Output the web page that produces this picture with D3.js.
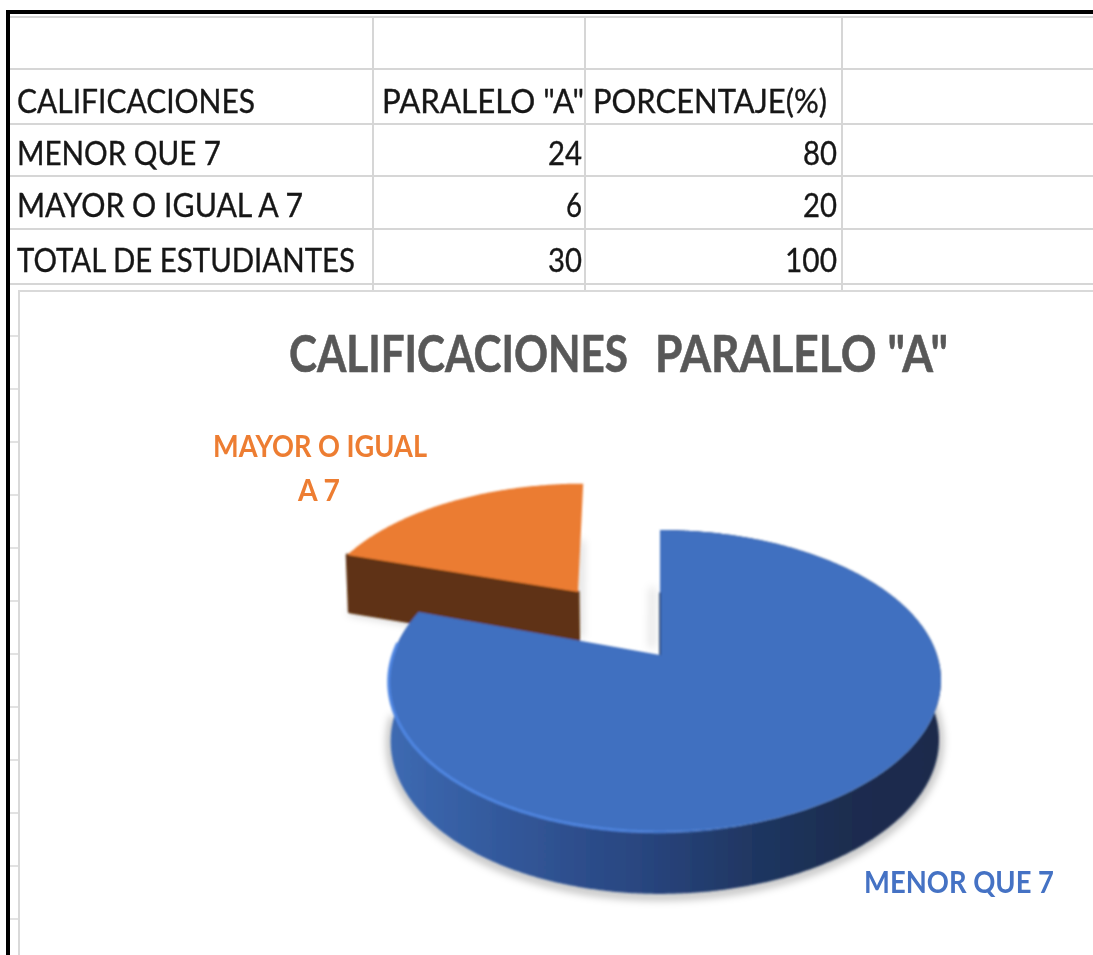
<!DOCTYPE html>
<html><head><meta charset="utf-8">
<style>html,body{margin:0;padding:0;background:#fff;overflow:hidden}svg{display:block}</style>
<script src="https://cdn.jsdelivr.net/npm/d3@7"></script>
</head><body>
<script>
const headers = ['CALIFICACIONES', 'PARALELO "A"', 'PORCENTAJE(%)'];
const rows = ['MENOR QUE 7', 'MAYOR O IGUAL A 7', 'TOTAL DE ESTUDIANTES'];
const paralelo = [24, 6, 30];
const porcentaje = [80, 20, 100];
const titleWords = ['CALIFICACIONES', 'PARALELO "A"'];
const sliceNames = ['MENOR QUE 7', 'MAYOR O IGUAL A 7'];
const sliceValues = [24, 6];
const explode = [0, 0.574];

const W = 1093, H = 955;
const svg = d3.select('body').append('svg').attr('width', W).attr('height', H);
const defs = svg.append('defs');
const soft = defs.append('filter').attr('id','soft').attr('x','-5%').attr('y','-5%').attr('width','110%').attr('height','110%');
soft.append('feGaussianBlur').attr('stdDeviation',0.8);
const txt = defs.append('filter').attr('id','txt').attr('x','-2%').attr('y','-10%').attr('width','104%').attr('height','120%');
txt.append('feGaussianBlur').attr('stdDeviation',0.4);
const shadow = defs.append('filter').attr('id','shadow').attr('x','-20%').attr('y','-20%').attr('width','140%').attr('height','140%');
shadow.append('feGaussianBlur').attr('stdDeviation',4);
const wallGrad = defs.append('linearGradient').attr('id','wall').attr('gradientUnits','userSpaceOnUse')
  .attr('x1',389).attr('x2',941).attr('y1',0).attr('y2',0);
[[0,'#3d6ab2'],[.2,'#33599c'],[.45,'#294680'],[.65,'#203763'],[.82,'#1b2d50'],[1,'#1a2b4c']].forEach(s=>
  wallGrad.append('stop').attr('offset',s[0]).attr('stop-color',s[1]));
const rimGrad = defs.append('linearGradient').attr('id','rim').attr('gradientUnits','userSpaceOnUse')
  .attr('x1',389).attr('x2',770).attr('y1',0).attr('y2',0);
[[0,'#4f86e2',1],[.6,'#4f86e2',.85],[1,'#4f86e2',0]].forEach(s=>
  rimGrad.append('stop').attr('offset',s[0]).attr('stop-color',s[1]).attr('stop-opacity',s[2]));

// ---------- sheet grid ----------
const grid = '#d6d6d6';
const hY = [17, 69, 124, 176, 229, 284];
const vX = [373, 585, 842];
const rowBase = [113, 165, 217, 272];
const gridG = svg.append('g').attr('stroke', grid).attr('stroke-width', 2);
gridG.selectAll('.h').data(hY).join('line').attr('x1',10).attr('x2',W).attr('y1',d=>d).attr('y2',d=>d);
gridG.selectAll('.v').data(vX).join('line').attr('x1',d=>d).attr('x2',d=>d).attr('y1',17).attr('y2',292);
svg.append('g').attr('stroke','#e2e2e2').attr('stroke-width',2).selectAll('line')
  .data(d3.range(336, 930, 53)).join('line').attr('x1',10).attr('x2',18).attr('y1',d=>d).attr('y2',d=>d);

// chart area box
svg.append('rect').attr('x',19).attr('y',291).attr('width',W).attr('height',H)
  .attr('fill','#fff').attr('stroke','#d9d9d9').attr('stroke-width',2);

// sheet frame
svg.append('path').attr('d',`M${W+5},12H8V${H+5}`).attr('fill','none').attr('stroke','#000').attr('stroke-width',4);

// ---------- table text ----------
const tbl = svg.append('g').attr('font-family','Lato, sans-serif').attr('font-size',33).attr('fill','#161616')
  .attr('stroke','#161616').attr('stroke-width',0.35).attr('filter','url(#txt)');
function put(t,x,y,len,anchor){
  const e = tbl.append('text').attr('x',x).attr('y',y).text(t).attr('text-anchor',anchor||'start');
  if(len) e.attr('textLength',len).attr('lengthAdjust','spacingAndGlyphs');
}
const hdrX = [17, 382, 593], hdrLen = [238, 202, 234];
headers.forEach((h,i)=>put(h,hdrX[i],rowBase[0],hdrLen[i]));
const rowLen = [204, 286, 338];
const numLen = [34, 16, 34], pctLen = [34, 34, 52];
rows.forEach((r,i)=>{
  put(r,17,rowBase[i+1],rowLen[i]);
  put(paralelo[i],582,rowBase[i+1],numLen[i],'end');
  put(porcentaje[i],837,rowBase[i+1],pctLen[i],'end');
});

// ---------- chart title ----------
const titleX = [289, 655], titleLen = [339, 293];
svg.append('g').attr('font-family','Lato, sans-serif').attr('font-weight',700)
  .attr('font-size',44).attr('fill','#595959').attr('stroke','#595959').attr('stroke-width',0.5).attr('filter','url(#txt)')
  .selectAll('text').data(titleWords).join('text')
  .attr('transform',(d,i)=>`translate(${titleX[i]},372) scale(1,1.16)`)
  .attr('textLength',(d,i)=>titleLen[i]).attr('lengthAdjust','spacingAndGlyphs').text(d=>d);

// ---------- 3D pie ----------
const cx = 660, cy = 655, A = 146.5, B = 272, k = 0.172, D = 59;
const ux = d3.scaleLinear().domain([0,1]).range([0,B]);
const uy = d3.scaleLinear().domain([0,1]).range([0,A]);
function proj(u, v, low, dx){
  const w = 1 + k*u;
  let x = cx + ux(v)/w + (dx||0), y = cy - uy(u)/w;
  if(low){ x = cx + 4 + (x-cx-4)*0.993; y += D - 3*u; }
  return [x,y];
}
const line = d3.line();
const pie = d3.pie().sort(null).value(d=>d).startAngle(0).endAngle(2*Math.PI);
const arcs = pie(sliceValues);

function slicePts(a, ex, rimDx, apexDx){
  const mid = (a.startAngle+a.endAngle)/2;
  const u0 = ex*Math.cos(mid), v0 = ex*Math.sin(mid);
  const n = Math.ceil((a.endAngle-a.startAngle)/0.01);
  const ang = d3.range(n+1).map(i=>a.startAngle+(a.endAngle-a.startAngle)*i/n);
  const at = (t,low)=>proj(u0+Math.cos(t),v0+Math.sin(t),low,rimDx(t));
  return {ang,at,
    rim:(low)=>ang.map(t=>at(t,low)),
    apex:(low)=>proj(u0,v0,low,apexDx)};
}
const blue = slicePts(arcs[0], explode[0], t=>5*Math.sin(t)**2, 0);
const orange = slicePts(arcs[1], explode[1], t=>-3.5, 3);
const closed = pts => line(pts)+'Z';
const pieG = svg.append('g');

// soft shadows: only around the outside of the pie and along the notch
const front = blue.ang.filter(t=>t>Math.PI*0.35 && t<Math.PI*1.5);
const shG = pieG.append('g').attr('filter','url(#shadow)').attr('fill','none').attr('stroke','#000');
shG.append('path').attr('opacity',.3).attr('stroke-width',7)
  .attr('d',line(front.map(t=>{const p=blue.at(t,true);return [p[0],p[1]+2];})));
shG.append('path').attr('opacity',.22).attr('stroke-width',5)
  .attr('d',line([orange.at(arcs[1].startAngle,true),orange.apex(true)]));
shG.append('path').attr('opacity',.18).attr('stroke-width',5)
  .attr('d',line([proj(0.9,-0.03,false,-72),proj(0.12,-0.03,false,-72)]));
shG.append('path').attr('opacity',.14).attr('stroke-width',5)
  .attr('d',line([proj(0.5,-0.03,false),proj(0.05,-0.03,false)]));

const solid = pieG.append('g').attr('filter','url(#soft)');
// orange wall (the exposed radial face)
solid.append('path').attr('fill','#5f3112').attr('stroke','#5f3112').attr('stroke-width',3).attr('stroke-linejoin','round')
  .attr('d',closed([orange.apex(false),orange.at(arcs[1].startAngle,false),orange.at(arcs[1].startAngle,true),orange.apex(true)]));
// orange top
solid.append('path').attr('fill','#eb7c30').attr('d',closed([orange.apex(false),...orange.rim(false)]));
// blue wall
solid.append('path').attr('fill','url(#wall)').attr('d',closed([...blue.rim(false),...blue.rim(true).reverse()]));
// blue top
solid.append('path').attr('fill','#4070c0').attr('d',closed([blue.apex(false),...blue.rim(false)]));
// notch inner sliver
solid.append('path').attr('d',line([proj(0.46,0,false),blue.apex(false)])).attr('stroke','#1f3864').attr('stroke-width',1.6).attr('fill','none');
// light rim along front edge
const frontRim = blue.ang.filter(t=>t>Math.PI*0.7 && t<Math.PI*1.53).map(t=>blue.at(t,false));
solid.append('path').attr('d',line(frontRim)).attr('fill','none').attr('stroke','url(#rim)').attr('stroke-width',3);

// ---------- data labels ----------
const lab = svg.append('g').attr('font-family','Lato, sans-serif').attr('font-weight',700).attr('font-size',30).attr('filter','url(#txt)');
const nameParts = sliceNames[1].split(' ');
lab.append('text').attr('x',213).attr('y',457).attr('fill','#ed7d31').attr('textLength',214).attr('lengthAdjust','spacingAndGlyphs')
  .text(nameParts.slice(0,3).join(' '));
lab.append('text').attr('x',298).attr('y',501).attr('fill','#ed7d31').attr('textLength',42).attr('lengthAdjust','spacingAndGlyphs')
  .text(nameParts.slice(3).join(' '));
lab.append('text').attr('x',864).attr('y',893).attr('fill','#4472c4').attr('textLength',190).attr('lengthAdjust','spacingAndGlyphs')
  .text(sliceNames[0]);
</script>
</body></html>
